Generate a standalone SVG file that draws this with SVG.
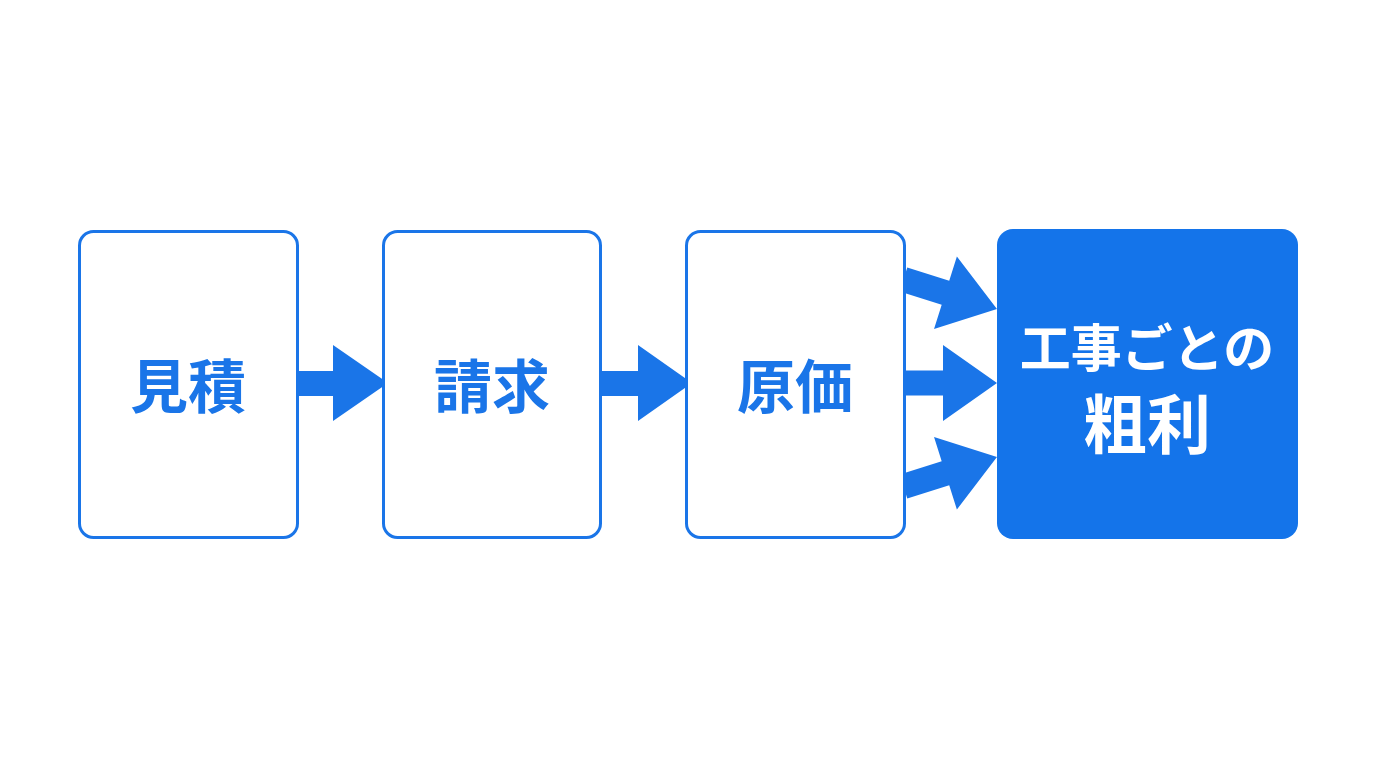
<svg xmlns="http://www.w3.org/2000/svg" width="1376" height="768" viewBox="0 0 1376 768">
<style>
.box{fill:#ffffff;stroke:#1a75e8;stroke-width:3}
.fbox{fill:#1474ea}
.arr{fill:#1a75e8}
.lbl{font-family:"Noto Sans CJK JP","Noto Sans CJK SC",sans-serif;font-weight:700;text-anchor:middle}
.blue{fill:#1a75e8;font-size:58px}
.white{fill:#ffffff}
</style>
<defs>
<polygon id="arrow" points="0,-12.5 38,-12.5 38,-38 92,0 38,38 38,12.5 0,12.5"/>
<polygon id="arrow-long" points="0,-12.5 44,-12.5 44,-38 98,0 44,38 44,12.5 0,12.5"/>
</defs>
<rect width="1376" height="768" fill="#ffffff"/>
<g id="connectors">
<polygon class="arr" points="296,371 333,371 333,345 388,383 333,421 333,396 296,396"/>
<polygon class="arr" points="600,371 638,371 638,345 692,383 638,421 638,396 600,396"/>
<use href="#arrow-long" class="arr" transform="translate(903.5,279.5) rotate(17.5)"/>
<use href="#arrow" class="arr" transform="translate(905,383)"/>
<use href="#arrow-long" class="arr" transform="translate(903.5,486.5) rotate(-17.5)"/>
</g>
<g id="node-mitsumori">
<rect class="box" x="79.5" y="231.5" width="218" height="306" rx="14"/>
<text class="lbl blue" x="188" y="408">見積</text>
</g>
<g id="node-seikyu">
<rect class="box" x="383.5" y="231.5" width="217" height="306" rx="14"/>
<text class="lbl blue" x="492" y="408">請求</text>
</g>
<g id="node-genka">
<rect class="box" x="686.5" y="231.5" width="218" height="306" rx="14"/>
<text class="lbl blue" x="795" y="408">原価</text>
</g>
<g id="node-arari">
<rect class="fbox" x="997" y="229" width="301" height="310" rx="16"/>
<text class="lbl white" x="1147" y="367" font-size="51">工事ごとの</text>
<text class="lbl white" x="1147" y="448" font-size="64">粗利</text>
</g>
</svg>
